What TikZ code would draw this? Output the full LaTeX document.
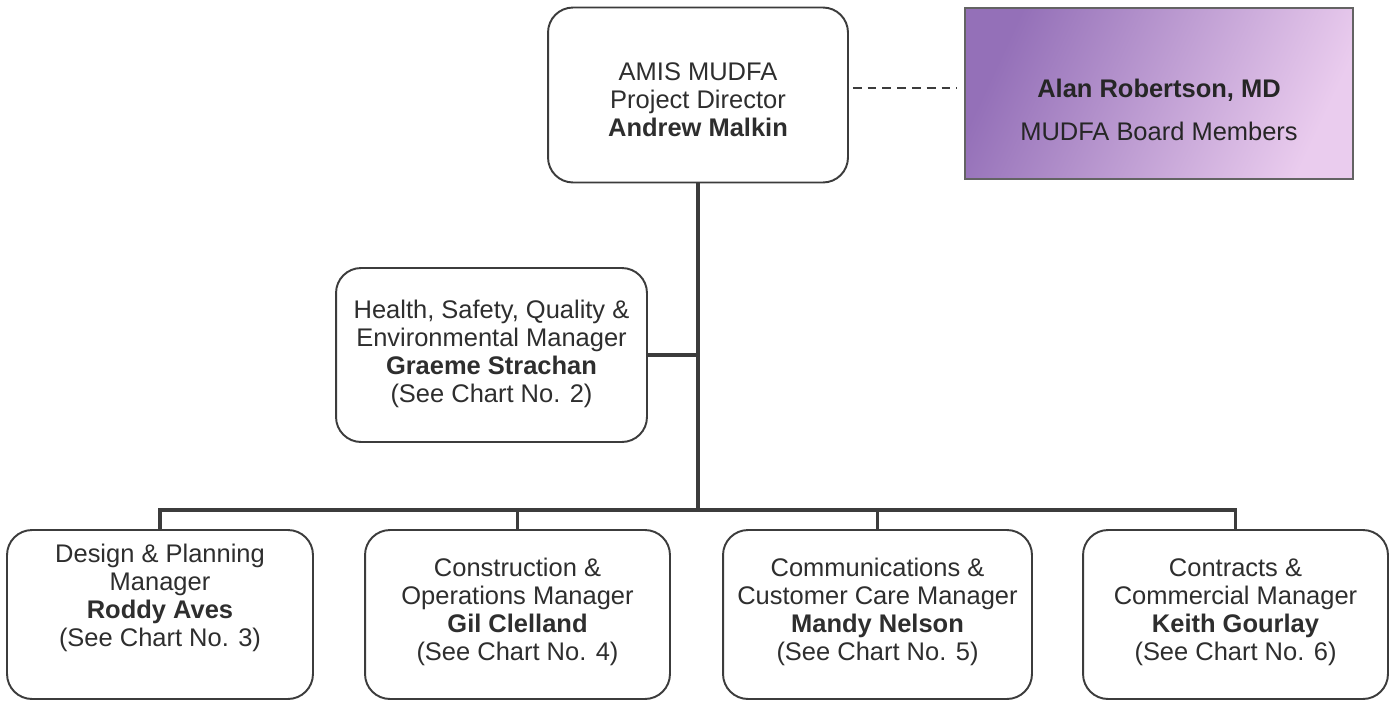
\documentclass[tikz,border=0pt]{standalone}
\usepackage{fontspec}
\setmainfont{Liberation Sans}
\usetikzlibrary{calc,positioning}
\definecolor{linegray}{HTML}{3C3C3C}
\definecolor{txtgray}{HTML}{2E2E2E}
\definecolor{boardleft}{HTML}{9470B8}
\definecolor{boardright}{HTML}{EACCEE}
\tikzset{
	box/.style={draw=linegray, line width=1.1pt, rounded corners=0.5cm, fill=white},
	txt/.style={align=center, text=txtgray, font=\fontsize{14.5}{15.9}\selectfont},
	trunk/.style={draw=linegray, line width=2pt},
}

\begin{document}
\begin{tikzpicture}[x=0.02cm, y=-0.02cm]
		%%%%% START %%%%%
		\useasboundingbox (0, 0) rectangle (1392, 703);
		
		% director and board
		\node[box, minimum width=6cm, minimum height=3.5cm] (pd) at (698, 95) {};
		\node[txt] (pdtxt) at (698, 100) {AMIS MUDFA\\Project Director\\\textbf{Andrew Malkin}};
		
		\node[draw=linegray!80, line width=0.8pt, left color=boardleft, right color=boardright, shading angle=65,
			minimum width=7.76cm, minimum height=3.42cm] (board) at (1159, 93.5) {};
		\node[txt, text=black!85] (boardtxt) at (1159, 110) {\textbf{Alan Robertson, MD}\\[9pt]MUDFA Board Members};
		
		% hsqe
		\node[box, minimum width=6.22cm, minimum height=3.48cm] (hs) at (491.5, 355) {};
		\node[txt] (hstxt) at (491.5, 354) {Health, Safety, Quality \&\\Environmental Manager\\\textbf{Graeme Strachan}\\(See Chart No. 2)};
		
		% managers
		\node[box, minimum width=6.12cm, minimum height=3.38cm] (dp) at (160, 614.5) {};
		\node[txt] (dptxt) at (160, 598) {Design \& Planning\\Manager\\\textbf{Roddy Aves}\\(See Chart No. 3)};
		
		\node[box, minimum width=6.1cm, minimum height=3.38cm] (co) at (517.5, 614.5) {};
		\node[txt] (cotxt) at (517.5, 612) {Construction \&\\Operations Manager\\\textbf{Gil Clelland}\\(See Chart No. 4)};
		
		\node[box, minimum width=6.18cm, minimum height=3.38cm] (cm) at (877.5, 614.5) {};
		\node[txt] (cmtxt) at (877.5, 612) {Communications \&\\Customer Care Manager\\\textbf{Mandy Nelson}\\(See Chart No. 5)};
		
		\node[box, minimum width=6.1cm, minimum height=3.38cm] (kg) at (1235.5, 614.5) {};
		\node[txt] (kgtxt) at (1235.5, 612) {Contracts \&\\Commercial Manager\\\textbf{Keith Gourlay}\\(See Chart No. 6)};
		
		% connectors
		\coordinate (bus) at (698, 510);
		\draw[draw=linegray, line width=1.2pt, dash pattern=on 5pt off 3.4pt] ($(pd.east)+(4, -7)$) -- ($(board.west)+(-8, -5.5)$);
		\draw[trunk] (pd.south) -- (bus);
		\draw[trunk] (hs.east) -- (hs.east -| pd.south);
		\draw[trunk] (dp.north) |- (kg.north |- bus) -- (kg.north);
		\foreach \n in {co, cm}
			\draw[trunk] (\n.north) -- (\n.north |- bus);
		%%%%% END %%%%%
	\end{tikzpicture}
\end{document}
